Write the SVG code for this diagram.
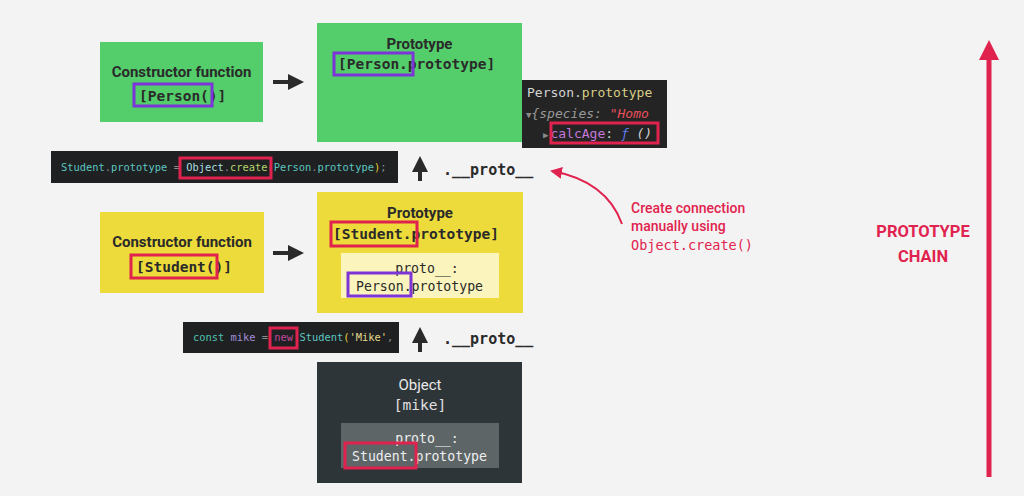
<svg xmlns="http://www.w3.org/2000/svg" width="1024" height="496" viewBox="0 0 1024 496">
  <style>
    .sans { font-family: Roboto, "Liberation Sans", sans-serif; }
    .mono { font-family: "DejaVu Sans Mono", "Liberation Mono", monospace; }
    .title { font-size: 15px; font-weight: bold; fill: #2a2a2a; text-anchor: middle; }
    .code-lg { font-size: 14.5px; font-weight: bold; fill: #2a2a2a; }
    .code-sm { font-size: 10.4px; }
    .inner { font-size: 13.2px; fill: #2a2a2a; }
    .proto-label { font-size: 15px; font-weight: bold; fill: #2a2a2a; }
    .hl-purple { fill: none; stroke: #7d35d8; stroke-width: 3; }
    .hl-red { fill: none; stroke: #e0234e; stroke-width: 3; }
    .arrow { stroke: #2a2a2a; stroke-width: 4; fill: none; }
    .note { fill: #e0234e; font-size: 14px; }
  </style>
  <defs>
    <marker id="head-dark" markerWidth="4" markerHeight="4" refX="2" refY="2" orient="auto" markerUnits="strokeWidth">
      <path d="M0,0 L4,2 L0,4 Z" fill="#2a2a2a"/>
    </marker>
    <marker id="head-red" markerWidth="6" markerHeight="6" refX="5" refY="3" orient="auto" markerUnits="strokeWidth">
      <path d="M0,0 L6,3 L0,6 Z" fill="#e0234e"/>
    </marker>
    <clipPath id="console-clip">
      <rect x="522" y="80" width="135" height="68"/>
    </clipPath>
  </defs>

  <rect width="1024" height="496" fill="#f4f3f4"/>

  <!-- Person constructor -->
  <g id="person-constructor">
    <rect x="100" y="42" width="163" height="80" fill="#53ce6a"/>
    <text class="sans title" x="181.5" y="77">Constructor function</text>
    <text class="mono code-lg" x="139" y="101">[Person()]</text>
    <rect class="hl-purple" x="134" y="84" width="78" height="22"/>
  </g>

  <!-- Person.prototype -->
  <g id="person-prototype">
    <rect x="317" y="23" width="205" height="119" fill="#53ce6a"/>
    <text class="sans title" x="419.5" y="49">Prototype</text>
    <text class="mono code-lg" x="338" y="69">[Person.prototype]</text>
    <rect class="hl-purple" x="334" y="53" width="79" height="22"/>
  </g>

  <!-- console view of Person.prototype -->
  <g id="console-panel">
    <rect x="522" y="80" width="145" height="68" fill="#242424"/>
    <g clip-path="url(#console-clip)" class="mono" font-size="13px">
      <text x="527" y="97"><tspan fill="#d4d4d4">Person.</tspan><tspan fill="#d8cf86">prototype</tspan></text>
      <text x="526" y="118" font-style="italic"><tspan fill="#8a8a8a" font-size="9px" font-style="normal">▼</tspan><tspan fill="#9a9a9a">{species: </tspan><tspan fill="#e8505b">"Homo</tspan></text>
      <text x="543" y="138"><tspan fill="#8a8a8a" font-size="9px">▶</tspan><tspan fill="#c678dd" dx="2">calcAge</tspan><tspan fill="#d4d4d4">: </tspan><tspan fill="#5f7de8" font-style="italic">ƒ</tspan><tspan fill="#d4d4d4" font-style="italic"> ()</tspan></text>
    </g>
    <rect class="hl-red" x="551" y="123" width="107" height="20"/>
  </g>

  <!-- Object.create code line -->
  <g id="object-create-code">
    <rect x="51" y="151" width="347" height="32" fill="#1f2022"/>
    <text class="mono code-sm" x="61" y="171"><tspan fill="#5cc6c0">Student</tspan><tspan fill="#8a8a8a">.</tspan><tspan fill="#5cc6c0">prototype</tspan><tspan fill="#8a8a8a"> = </tspan><tspan fill="#a9dfe0">Object</tspan><tspan fill="#8a8a8a">.</tspan><tspan fill="#b6d56a">create</tspan><tspan fill="#d4c44a">(</tspan><tspan fill="#5cc6c0">Person</tspan><tspan fill="#8a8a8a">.</tspan><tspan fill="#5cc6c0">prototype</tspan><tspan fill="#e6d030">)</tspan><tspan fill="#8a8a8a">;</tspan></text>
    <rect class="hl-red" x="180" y="158" width="91" height="20"/>
  </g>

  <!-- Student constructor -->
  <g id="student-constructor">
    <rect x="100" y="212" width="164" height="81" fill="#ecdb3a"/>
    <text class="sans title" x="182" y="247">Constructor function</text>
    <text class="mono code-lg" x="136" y="272">[Student()]</text>
    <rect class="hl-red" x="131" y="255" width="86" height="23"/>
  </g>

  <!-- Student.prototype -->
  <g id="student-prototype">
    <rect x="317" y="192" width="206" height="121" fill="#ecdb3a"/>
    <text class="sans title" x="420" y="218">Prototype</text>
    <text class="mono code-lg" x="333" y="239">[Student.prototype]</text>
    <rect class="hl-red" x="331" y="222" width="86" height="24"/>
    <rect x="341" y="253" width="158" height="45" fill="#fbf4bd"/>
    <text class="mono inner" x="427" y="273" text-anchor="middle">proto__:</text>
    <text class="mono inner" x="356" y="291">Person.prototype</text>
    <rect class="hl-purple" x="348" y="273" width="63" height="23"/>
  </g>

  <!-- new Student code line -->
  <g id="new-student-code">
    <rect x="183" y="322" width="216" height="31" fill="#1f2022"/>
    <text class="mono code-sm" x="193" y="341"><tspan fill="#4fc0b0">const</tspan><tspan fill="#a08ed8"> mike</tspan><tspan fill="#8a8a8a"> = </tspan><tspan fill="#c0489a">new</tspan><tspan fill="#5cc6c0"> Student</tspan><tspan fill="#e6d030">(</tspan><tspan fill="#e3d98a">'Mike'</tspan><tspan fill="#8a8a8a">,</tspan></text>
    <rect class="hl-red" x="270" y="328" width="27" height="20"/>
  </g>

  <!-- mike object -->
  <g id="mike-object">
    <rect x="317" y="362" width="205" height="121" fill="#2e3538"/>
    <text class="sans" x="420" y="390" text-anchor="middle" font-size="15px" fill="#e8e8e8">Object</text>
    <text class="mono" x="420" y="410" text-anchor="middle" font-size="14.5px" fill="#e0e0e0">[mike]</text>
    <rect x="341" y="423" width="158" height="45" fill="#5d6567"/>
    <text class="mono inner" x="427" y="443" text-anchor="middle" style="fill:#eeeeee">proto__:</text>
    <text class="mono inner" x="352" y="461" style="fill:#eeeeee">Student.prototype</text>
    <rect class="hl-red" x="345" y="443" width="71" height="25"/>
  </g>

  <!-- prototype chain label -->
  <g id="chain-label">
    <text class="sans" x="923" y="237" text-anchor="middle" font-size="16.5px" font-weight="bold" fill="#e0234e">PROTOTYPE</text>
    <text class="sans" x="923" y="262" text-anchor="middle" font-size="16.5px" font-weight="bold" fill="#e0234e">CHAIN</text>
  </g>

  <!-- annotation -->
  <g id="annotation">
    <text class="sans note" x="631" y="213" font-weight="500">Create connection</text>
    <text class="sans note" x="631" y="231" font-weight="500">manually using</text>
    <text class="mono" x="631" y="250" font-size="13.5px" fill="#e0234e">Object.create()</text>
  </g>

  <!-- connectors -->
  <g id="connectors">
    <line class="arrow" x1="273" y1="82" x2="296" y2="82" marker-end="url(#head-dark)"/>
    <line class="arrow" x1="273" y1="253" x2="296" y2="253" marker-end="url(#head-dark)"/>
    <line class="arrow" x1="420" y1="181" x2="420" y2="164" marker-end="url(#head-dark)"/>
    <text class="mono proto-label" x="443" y="175">.__proto__</text>
    <line class="arrow" x1="420" y1="352" x2="420" y2="335" marker-end="url(#head-dark)"/>
    <text class="mono proto-label" x="443" y="344">.__proto__</text>
    <path d="M622,224 C612,196 590,178 552,171" fill="none" stroke="#e0234e" stroke-width="2" marker-end="url(#head-red)"/>
    <line x1="989" y1="477" x2="989" y2="58" stroke="#e0234e" stroke-width="5"/>
    <path d="M979,60 L989,40 L999,60 Z" fill="#e0234e"/>
  </g>
</svg>
